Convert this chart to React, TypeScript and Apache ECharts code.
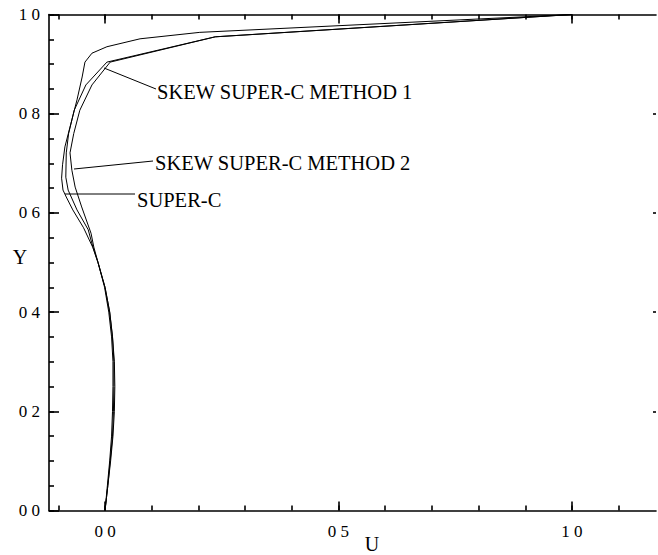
import React, { useEffect, useRef } from "react";
import * as echarts from "echarts";

// ---- data (U velocity vs Y) ----
const superCY = [0, 0.05, 0.1, 0.15, 0.2, 0.25, 0.3, 0.35, 0.4, 0.45, 0.5, 0.53, 0.57, 0.606, 0.632, 0.646, 0.67, 0.697, 0.733, 0.773, 0.828, 0.874, 0.904, 0.922, 0.935, 0.951, 0.964, 1.0];
const superCU = [0, 0.006, 0.012, 0.017, 0.02, 0.021, 0.02, 0.016, 0.01, 0.0, -0.015, -0.026, -0.046, -0.069, -0.083, -0.09, -0.093, -0.091, -0.086, -0.075, -0.06, -0.049, -0.043, -0.028, 0.004, 0.075, 0.203, 1.0];

const method1Y = [0, 0.05, 0.1, 0.15, 0.2, 0.25, 0.3, 0.35, 0.4, 0.45, 0.5, 0.531, 0.566, 0.606, 0.646, 0.672, 0.721, 0.76, 0.807, 0.858, 0.904, 0.955, 1.0];
const method1U = [0, 0.005, 0.01, 0.014, 0.016, 0.017, 0.017, 0.014, 0.008, -0.001, -0.015, -0.026, -0.036, -0.06, -0.079, -0.084, -0.083, -0.078, -0.066, -0.041, 0.004, 0.236, 1.0];

const method2Y = [0, 0.05, 0.1, 0.15, 0.2, 0.25, 0.3, 0.35, 0.4, 0.45, 0.5, 0.531, 0.559, 0.612, 0.652, 0.686, 0.721, 0.76, 0.807, 0.858, 0.904, 0.955, 1.0];
const method2U = [0, 0.006, 0.011, 0.016, 0.018, 0.019, 0.019, 0.016, 0.01, 0.0, -0.015, -0.024, -0.03, -0.05, -0.064, -0.071, -0.075, -0.067, -0.054, -0.028, 0.011, 0.236, 1.0];

// ---- axis ticks ----
const xMinorTicks = [-0.1, 0, 0.1, 0.2, 0.3, 0.4, 0.5, 0.6, 0.7, 0.8, 0.9, 1.0, 1.1];
const xMajorTicks = [0, 0.5, 1.0];
const yMinorTicks = [0, 0.05, 0.1, 0.15, 0.2, 0.25, 0.3, 0.35, 0.4, 0.45, 0.5, 0.55, 0.6, 0.65, 0.7, 0.75, 0.8, 0.85, 0.9, 0.95, 1.0];
const yMajorTicks = [0, 0.2, 0.4, 0.6, 0.8, 1.0];
const yRightTicks = [0.2, 0.4, 0.6, 0.8];

const FONT = "'Liberation Serif', 'Times New Roman', serif";

const fmt = (v: number) => v.toFixed(1).replace(".", " ");

function pairs(us: number[], ys: number[]) {
  return us.map((u, i) => [u, ys[i]]);
}

export default function App() {
  const ref = useRef<HTMLDivElement>(null);
  useEffect(() => {
    if (!ref.current) return;
    const chart = echarts.init(ref.current, undefined, { renderer: "svg" });
    const axLine = { color: "#000", width: 1.6 };
    const noSplit = { show: false };
    const xBase = { type: "value", min: -0.12, max: 1.18, splitLine: noSplit };
    const yBase = { type: "value", min: 0, max: 1, splitLine: noSplit };
    const lineSeries = (name: string, us: number[], ys: number[]) => ({
      type: "line",
      name,
      data: pairs(us, ys),
      xAxisIndex: 0,
      yAxisIndex: 0,
      showSymbol: false,
      symbol: "none",
      lineStyle: { color: "#000", width: 1 },
      silent: true,
    });
    const annot = { fontFamily: FONT, fontSize: 20.5, fill: "#000", textAlign: "left", textVerticalAlign: "middle" };
    chart.setOption({
      animation: false,
      backgroundColor: "#fff",
      grid: { left: 49, right: 2, top: 14.5, bottom: 44.5, containLabel: false },
      xAxis: [
        {
          ...xBase,
          position: "bottom",
          axisLine: { show: true, onZero: false, lineStyle: axLine },
          axisTick: { show: true, inside: true, length: 5, customValues: xMinorTicks, lineStyle: axLine },
          axisLabel: { show: false },
        },
        {
          ...xBase,
          position: "bottom",
          axisLine: { show: false, onZero: false },
          axisTick: { show: true, inside: true, length: 9, customValues: xMajorTicks, lineStyle: axLine },
          axisLabel: {
            show: true,
            customValues: xMajorTicks,
            formatter: fmt,
            margin: 12,
            color: "#000",
            fontFamily: FONT,
            fontSize: 17,
          },
        },
        {
          ...xBase,
          position: "top",
          axisLine: { show: true, onZero: false, lineStyle: axLine },
          axisTick: { show: true, inside: true, length: 5, customValues: xMinorTicks, lineStyle: axLine },
          axisLabel: { show: false },
        },
        {
          ...xBase,
          position: "top",
          axisLine: { show: false, onZero: false },
          axisTick: { show: true, inside: true, length: 9, customValues: xMajorTicks, lineStyle: axLine },
          axisLabel: { show: false },
        },
      ],
      yAxis: [
        {
          ...yBase,
          position: "left",
          axisLine: { show: true, onZero: false, lineStyle: axLine },
          axisTick: { show: true, inside: true, length: 5, customValues: yMinorTicks, lineStyle: axLine },
          axisLabel: { show: false },
        },
        {
          ...yBase,
          position: "left",
          axisLine: { show: false, onZero: false },
          axisTick: { show: true, inside: true, length: 10, customValues: yMajorTicks, lineStyle: axLine },
          axisLabel: {
            show: true,
            customValues: yMajorTicks,
            formatter: fmt,
            margin: 9,
            color: "#000",
            fontFamily: FONT,
            fontSize: 17,
          },
        },
        {
          ...yBase,
          position: "right",
          axisLine: { show: false, onZero: false },
          axisTick: { show: true, inside: true, length: 3, customValues: yRightTicks, lineStyle: axLine },
          axisLabel: { show: false },
        },
      ],
      series: [
        lineSeries("SUPER-C", superCU, superCY),
        lineSeries("SKEW SUPER-C METHOD 1", method1U, method1Y),
        lineSeries("SKEW SUPER-C METHOD 2", method2U, method2Y),
      ],
      graphic: [
        { type: "line", shape: { x1: 104, y1: 68, x2: 156, y2: 89 }, style: { stroke: "#000", lineWidth: 1 } },
        { type: "text", x: 157, y: 92, style: { text: "SKEW SUPER-C METHOD 1", ...annot } },
        { type: "line", shape: { x1: 74, y1: 169, x2: 153, y2: 161 }, style: { stroke: "#000", lineWidth: 1 } },
        { type: "text", x: 155, y: 163, style: { text: "SKEW SUPER-C METHOD 2", ...annot } },
        { type: "line", shape: { x1: 65, y1: 194, x2: 135, y2: 194 }, style: { stroke: "#000", lineWidth: 1 } },
        { type: "text", x: 137, y: 200, style: { text: "SUPER-C", ...annot } },
        { type: "text", x: 20, y: 257, style: { text: "Y", ...annot, fontSize: 20, textAlign: "center" } },
        { type: "text", x: 372, y: 544, style: { text: "U", ...annot, fontSize: 20, textAlign: "center" } },
      ],
    });
    return () => chart.dispose();
  }, []);
  return (
    <div
      ref={ref}
      style={{ position: "fixed", left: 0, top: 0, width: 658, height: 555, background: "#fff" }}
    />
  );
}
